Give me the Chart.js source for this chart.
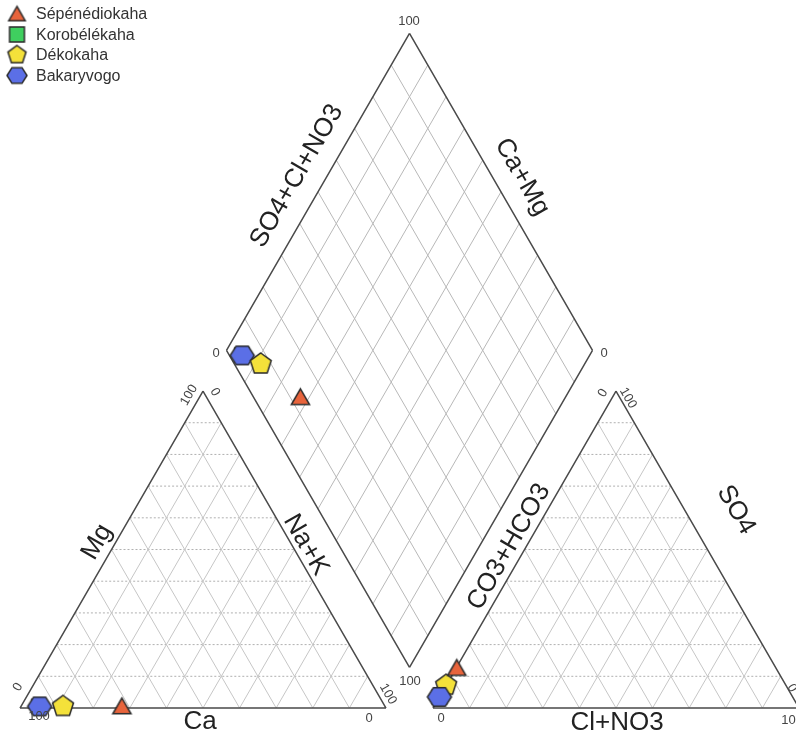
<!DOCTYPE html>
<html>
<head>
<meta charset="utf-8">
<script src="https://cdn.jsdelivr.net/npm/chart.js@4.4.1/dist/chart.umd.min.js"></script>
<style>
  html, body { margin: 0; padding: 0; background: #fff; }
  #wrap { width: 796px; height: 740px; position: relative; }
</style>
</head>
<body>
<div id="wrap"><canvas id="canvas"></canvas></div>
<script>
// ---- data (percent of meq) ----
var sampleNames = ['Sépénédiokaha', 'Korobélékaha', 'Dékokaha', 'Bakaryvogo'];
var caPct  = [71.9, 94.6, 88.0, 94.4];
var mgPct  = [0.5, 0.5, 0.5, 0.5];
var naKPct = [27.6, 4.9, 11.5, 5.1];
var co3Pct = [87.2, 96.5, 92.8, 96.5];
var so4Pct = [12.6, 3.5, 7.2, 3.5];
var clPct  = [0.2, 0.0, 0.0, 0.0];
var gridSteps = [10, 20, 30, 40, 50, 60, 70, 80, 90];

// ---- styles ----
var markerShapes = ['triangle', 'square', 'pentagon', 'hexagon'];
var markerFills = ['#e8643c', '#3fcf5f', '#f4e13a', '#5b6fe6'];
var markerSizes = [21, 18, 22, 24];
var legendSizes = [19, 19, 19, 20];
var FONT = "'Liberation Sans', Arial, sans-serif";

// ---- geometry of the piper layout ----
var X0 = 20, S = 366, GAP = 47, BASE = 708;
var H = S * Math.sqrt(3) / 2;
var XR = X0 + S + GAP;
var BX = X0 + S + GAP / 2, BY = BASE - GAP * Math.sqrt(3) / 2;

function cationPt(ca, mg, nak) {
  return { x: X0 + S * (nak + mg / 2) / 100, y: BASE - H * mg / 100 };
}
function anionPt(co3, so4, cl) {
  return { x: XR + S * (cl + so4 / 2) / 100, y: BASE - H * so4 / 100 };
}
function diamondPt(camg, so4cl) {
  return { x: BX + S / 2 * (so4cl - camg) / 100, y: BY - H * (camg + so4cl) / 100 };
}

function makeMarker(shape, size, fill) {
  var c = document.createElement('canvas');
  c.width = size + 4; c.height = size + 4;
  var g = c.getContext('2d');
  var cx = c.width / 2, cy = c.height / 2, r = size / 2;
  g.beginPath();
  if (shape === 'square') {
    g.rect(cx - r * 0.78, cy - r * 0.78, r * 1.56, r * 1.56);
  } else {
    var n = shape === 'triangle' ? 3 : shape === 'pentagon' ? 5 : 6;
    var start = shape === 'hexagon' ? 0 : -Math.PI / 2;
    var oy = shape === 'triangle' ? r * 0.2 : 0;
    for (var i = 0; i < n; i++) {
      var a = start + i * 2 * Math.PI / n;
      var px = cx + r * Math.cos(a), py = cy + oy + r * (shape === 'hexagon' ? 0.9 : 1) * Math.sin(a);
      if (i === 0) g.moveTo(px, py); else g.lineTo(px, py);
    }
    g.closePath();
  }
  g.fillStyle = fill;
  g.fill();
  g.lineWidth = 1.5;
  g.strokeStyle = '#2b2b2b';
  g.stroke();
  return c;
}

function segDataset(segs, color, width, dash, order) {
  var data = [];
  segs.forEach(function(s) {
    data.push(s[0], s[1], { x: s[1].x, y: null });
  });
  return {
    type: 'scatter', data: data, showLine: true, spanGaps: false,
    borderColor: color, borderWidth: width, borderDash: dash || [],
    pointRadius: 0, fill: false, order: order
  };
}

// grid segments
var triDotted = [], triSolid = [], diaGrid = [];
gridSteps.forEach(function(p) {
  triDotted.push([cationPt(100 - p, p, 0), cationPt(0, p, 100 - p)]);
  triDotted.push([anionPt(100 - p, p, 0), anionPt(0, p, 100 - p)]);
  triSolid.push([cationPt(p, 100 - p, 0), cationPt(p, 0, 100 - p)]);
  triSolid.push([cationPt(100 - p, 0, p), cationPt(0, 100 - p, p)]);
  triSolid.push([anionPt(p, 100 - p, 0), anionPt(p, 0, 100 - p)]);
  triSolid.push([anionPt(100 - p, 0, p), anionPt(0, 100 - p, p)]);
  diaGrid.push([diamondPt(p, 0), diamondPt(p, 100)]);
  diaGrid.push([diamondPt(0, p), diamondPt(100, p)]);
});
var frames = [
  [cationPt(100, 0, 0), cationPt(0, 0, 100)], [cationPt(0, 0, 100), cationPt(0, 100, 0)], [cationPt(0, 100, 0), cationPt(100, 0, 0)],
  [anionPt(100, 0, 0), anionPt(0, 0, 100)], [anionPt(0, 0, 100), anionPt(0, 100, 0)], [anionPt(0, 100, 0), anionPt(100, 0, 0)],
  [diamondPt(0, 0), diamondPt(100, 0)], [diamondPt(100, 0), diamondPt(100, 100)],
  [diamondPt(100, 100), diamondPt(0, 100)], [diamondPt(0, 100), diamondPt(0, 0)]
];

var markers = markerShapes.map(function(s, i) { return makeMarker(s, markerSizes[i], markerFills[i]); });
var legendMarkers = markerShapes.map(function(s, i) { return makeMarker(s, legendSizes[i], markerFills[i]); });

// draw order: first dataset ends on top
// cation triangle + diamond: yellow over blue; anion triangle: blue over yellow
var drawOrderCat = [0, 2, 3, 1];
var drawOrderAn = [0, 3, 2, 1];
var catSets = drawOrderCat.map(function(i) {
  return {
    type: 'scatter',
    label: sampleNames[i],
    data: [
      cationPt(caPct[i], mgPct[i], naKPct[i]),
      diamondPt(caPct[i] + mgPct[i], so4Pct[i] + clPct[i])
    ],
    pointStyle: markers[i],
    pointRadius: 10,
    order: 0
  };
});
var anSets = drawOrderAn.map(function(i) {
  return {
    type: 'scatter',
    label: sampleNames[i],
    data: [anionPt(co3Pct[i], so4Pct[i], clPct[i])],
    pointStyle: markers[i],
    pointRadius: 10,
    order: 0
  };
});

var datasets = catSets.concat(anSets, [
  segDataset(frames, '#4a4a4a', 1.5, [], 1),
  segDataset(diaGrid, '#b8b8b8', 1, [], 2),
  segDataset(triSolid, '#c6c6c6', 1, [], 2),
  segDataset(triDotted, '#b0b0b0', 1, [2, 2], 2)
]);

// axis titles and end labels
var texts = [
  { t: 'SO4+Cl+NO3', x: 297, y: 176, r: -60, s: 26, c: '#222' },
  { t: 'Ca+Mg', x: 522, y: 177, r: 60, s: 26, c: '#222' },
  { t: 'Mg', x: 97, y: 542, r: -60, s: 26, c: '#222' },
  { t: 'Na+K', x: 306, y: 545, r: 60, s: 26, c: '#222' },
  { t: 'Ca', x: 200, y: 722, r: 0, s: 26, c: '#222' },
  { t: 'CO3+HCO3', x: 509, y: 547, r: -60, s: 26, c: '#222' },
  { t: 'SO4', x: 736, y: 510, r: 60, s: 26, c: '#222' },
  { t: 'Cl+NO3', x: 617, y: 723, r: 0, s: 26, c: '#222' },
  { t: '100', x: 409, y: 21, r: 0, s: 13, c: '#444' },
  { t: '0', x: 216, y: 353, r: 0, s: 13, c: '#444' },
  { t: '0', x: 604, y: 353, r: 0, s: 13, c: '#444' },
  { t: '100', x: 410, y: 681, r: 0, s: 13, c: '#444' },
  { t: '0', x: 18, y: 687, r: -60, s: 13, c: '#444' },
  { t: '100', x: 39, y: 716, r: 0, s: 13, c: '#444' },
  { t: '100', x: 189, y: 395, r: -60, s: 13, c: '#444' },
  { t: '0', x: 215, y: 392, r: 60, s: 13, c: '#444' },
  { t: '100', x: 388, y: 694, r: 60, s: 13, c: '#444' },
  { t: '0', x: 369, y: 718, r: 0, s: 13, c: '#444' },
  { t: '0', x: 441, y: 718, r: 0, s: 13, c: '#444' },
  { t: '100', x: 792, y: 720, r: 0, s: 13, c: '#444' },
  { t: '0', x: 603, y: 393, r: -60, s: 13, c: '#444' },
  { t: '100', x: 628, y: 398, r: 60, s: 13, c: '#444' },
  { t: '0', x: 792, y: 688, r: 60, s: 13, c: '#444' }
];

var piperText = {
  id: 'piperText',
  afterDatasetsDraw: function(chart) {
    var ctx = chart.ctx, sx = chart.scales.x, sy = chart.scales.y;
    ctx.save();
    ctx.textAlign = 'center';
    ctx.textBaseline = 'middle';
    texts.forEach(function(o) {
      ctx.save();
      ctx.translate(sx.getPixelForValue(o.x), sy.getPixelForValue(o.y));
      ctx.rotate(o.r * Math.PI / 180);
      ctx.font = o.s + 'px ' + FONT;
      ctx.fillStyle = o.c;
      ctx.fillText(o.t, 0, 0);
      ctx.restore();
    });
    // legend, top-left
    ctx.textAlign = 'left';
    ctx.font = '16px ' + FONT;
    ctx.fillStyle = '#333';
    sampleNames.forEach(function(name, i) {
      var y = 14 + i * 20.5;
      var m = legendMarkers[i];
      ctx.drawImage(m, 17 - m.width / 2, y - m.height / 2);
      ctx.fillText(name, 36, y + 1);
    });
    ctx.restore();
  }
};

var ctx = document.getElementById('canvas').getContext('2d');
var chart = new Chart(ctx, {
  type: 'scatter',
  data: { datasets: datasets },
  options: {
    responsive: true,
    maintainAspectRatio: false,
    animation: false,
    events: [],
    layout: { padding: 0, autoPadding: false },
    plugins: { legend: { display: false }, tooltip: { enabled: false } },
    scales: {
      x: { type: 'linear', min: 0, max: 796, display: false },
      y: { type: 'linear', min: 0, max: 740, reverse: true, display: false }
    }
  },
  plugins: [piperText]
});
</script>
</body>
</html>
